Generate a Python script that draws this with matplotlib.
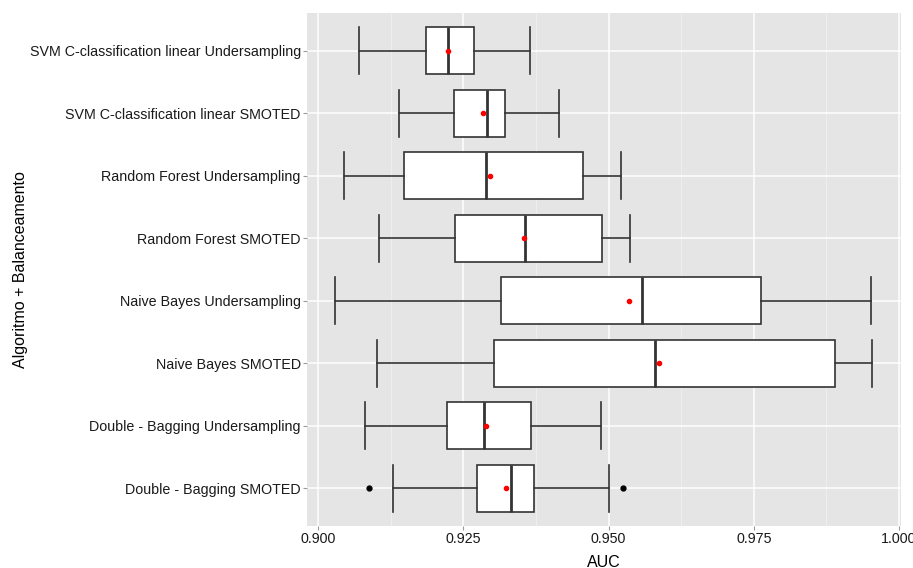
import matplotlib
matplotlib.use('Agg')
import matplotlib.pyplot as plt
from matplotlib.ticker import MultipleLocator

# Categories listed from bottom to top of the y axis
labels = [
    'Double - Bagging SMOTED',
    'Double - Bagging Undersampling',
    'Naive Bayes SMOTED',
    'Naive Bayes Undersampling',
    'Random Forest SMOTED',
    'Random Forest Undersampling',
    'SVM C-classification linear SMOTED',
    'SVM C-classification linear Undersampling',
]

whislo = [0.9129, 0.9080, 0.9101, 0.9029, 0.9104, 0.9044, 0.9139, 0.9070]
q1 = [0.9273, 0.9222, 0.9302, 0.9314, 0.9235, 0.9148, 0.9234, 0.9185]
med = [0.9332, 0.9285, 0.9580, 0.9557, 0.9356, 0.9289, 0.9290, 0.9223]
q3 = [0.9372, 0.9366, 0.9890, 0.9762, 0.9489, 0.9455, 0.9322, 0.9269]
whishi = [0.9501, 0.9486, 0.9954, 0.9952, 0.9537, 0.9522, 0.9415, 0.9365]
means = [0.9324, 0.9288, 0.9587, 0.9535, 0.9354, 0.9295, 0.9283, 0.9224]
outliers = [[0.9088, 0.9525], [], [], [], [], [], [], []]

stats = []
for i in range(len(labels)):
    stats.append({
        'whislo': whislo[i], 'q1': q1[i], 'med': med[i],
        'q3': q3[i], 'whishi': whishi[i], 'fliers': outliers[i],
        'label': labels[i],
    })

plt.rcParams['font.family'] = ['Liberation Sans', 'DejaVu Sans']

fig = plt.figure(figsize=(9.13, 5.68), dpi=100)
ax = fig.add_axes([307 / 913, 42 / 568, 594 / 913, 513 / 568])
ax.set_facecolor('#E5E5E5')

positions = list(range(1, len(labels) + 1))
line_col = '#333333'
ax.bxp(
    stats, positions=positions, vert=False, widths=0.75,
    patch_artist=True, showfliers=True, showcaps=True,
    boxprops=dict(facecolor='white', edgecolor=line_col, linewidth=1.2),
    medianprops=dict(color=line_col, linewidth=2.0),
    whiskerprops=dict(color=line_col, linewidth=1.2),
    capprops=dict(color=line_col, linewidth=1.2),
    capwidths=0.75,
    flierprops=dict(marker='o', markerfacecolor='black', markeredgecolor='black',
                    markersize=3.5),
    zorder=3,
)
ax.scatter(means, positions, color='red', s=9, zorder=5)

ax.set_xlim(0.89806, 1.00034)
ax.set_ylim(0.4, 8.6)
ax.xaxis.set_minor_locator(MultipleLocator(0.0125))
ax.set_xticks([0.900, 0.925, 0.950, 0.975, 1.000])
ax.set_xticklabels(['0.900', '0.925', '0.950', '0.975', '1.000'])
ax.set_yticks(positions)
ax.set_yticklabels(labels)

ax.grid(which='major', color='white', linewidth=1.1, zorder=0)
ax.grid(which='minor', axis='x', color='#F2F2F2', linewidth=0.5, zorder=0)
ax.set_axisbelow(True)
for s in ax.spines.values():
    s.set_visible(False)

ax.tick_params(axis='both', which='major', length=3, color='#9A9A9A',
               labelcolor='#1A1A1A', labelsize=10.3, width=0.8, pad=1.5)
ax.tick_params(axis='both', which='minor', length=0)

ax.set_xlabel('AUC', fontsize=11.5, color='black', labelpad=6)
ax.set_ylabel('Algoritmo + Balanceamento', fontsize=11.5, color='black', labelpad=1)

fig.savefig('out.png', dpi=100)
